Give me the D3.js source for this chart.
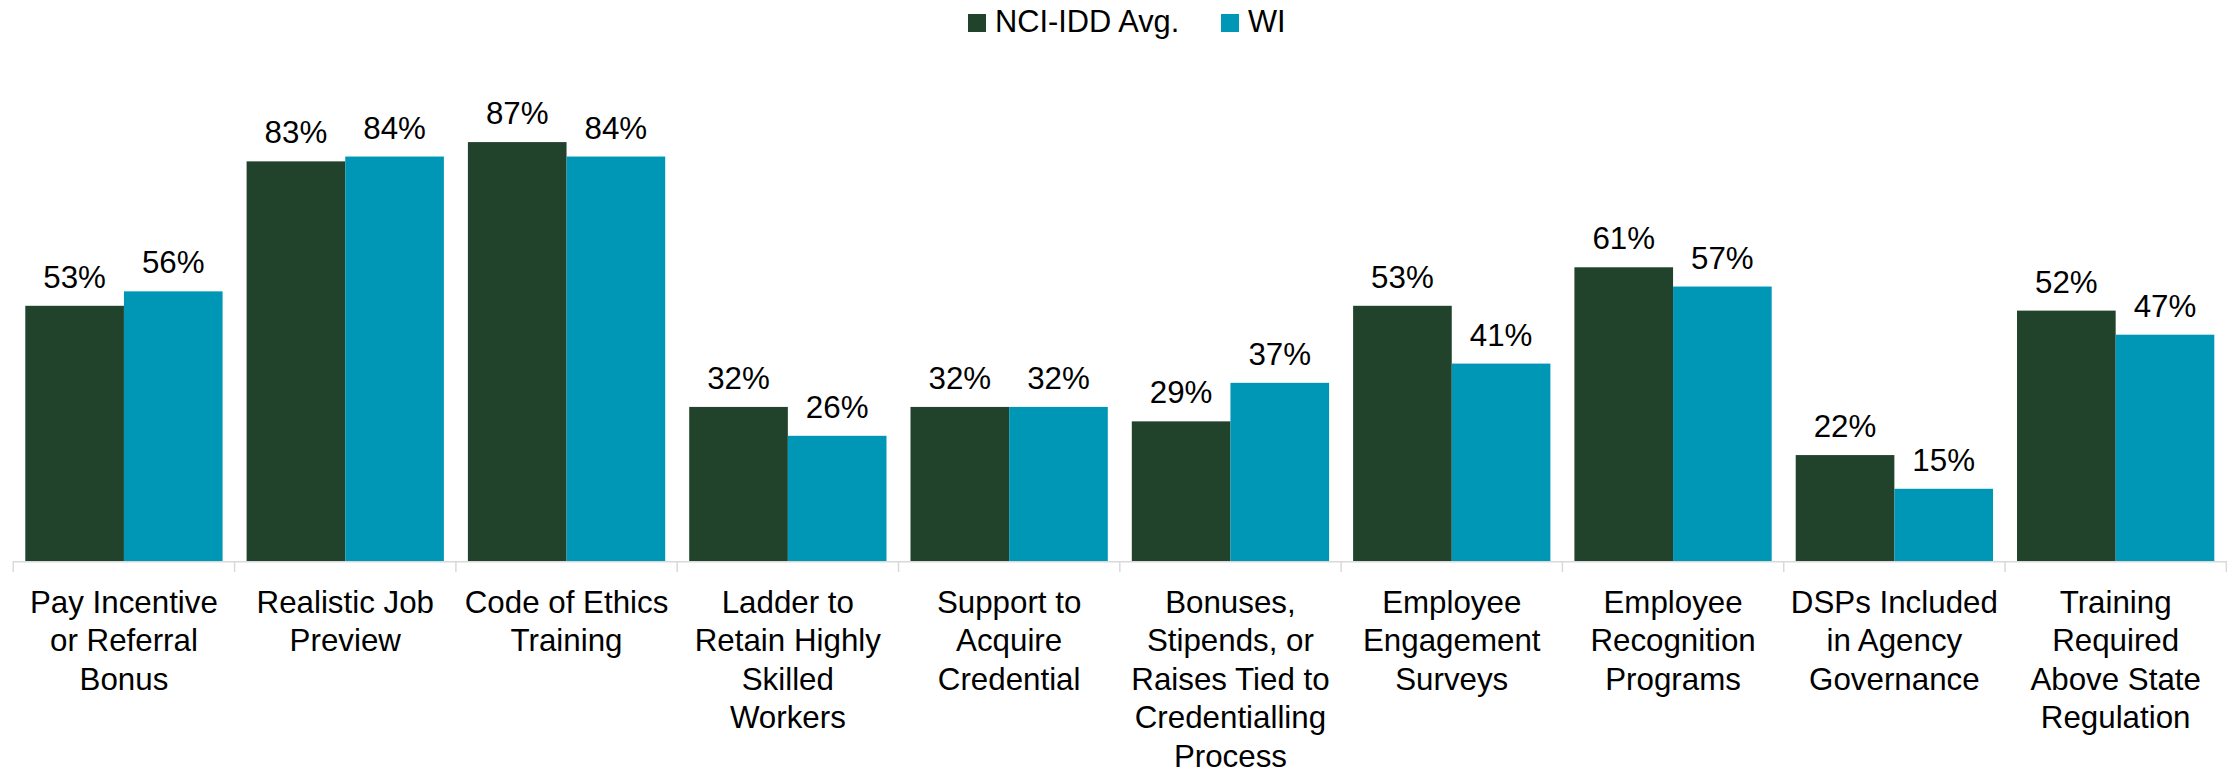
<!DOCTYPE html>
<html>
<head>
<meta charset="utf-8">
<script src="https://cdn.jsdelivr.net/npm/d3@7"></script>
<style>
  html, body { margin: 0; padding: 0; background: #fff; }
  svg { display: block; font-family: "Liberation Sans", Arial, sans-serif; }
</style>
</head>
<body>
<svg id="chart" width="2236" height="773"></svg>
<script>
// Category labels, one string per category, line breaks marked with "\n"
const categories = [
  "Pay Incentive\nor Referral\nBonus",
  "Realistic Job\nPreview",
  "Code of Ethics\nTraining",
  "Ladder to\nRetain Highly\nSkilled\nWorkers",
  "Support to\nAcquire\nCredential",
  "Bonuses,\nStipends, or\nRaises Tied to\nCredentialling\nProcess",
  "Employee\nEngagement\nSurveys",
  "Employee\nRecognition\nPrograms",
  "DSPs Included\nin Agency\nGovernance",
  "Training\nRequired\nAbove State\nRegulation"
];

const seriesNames = ["NCI-IDD Avg.", "WI"];

// Percent of agencies offering each practice
const nciValues = [53, 83, 87, 32, 32, 29, 53, 61, 22, 52];
const wiValues  = [56, 84, 84, 26, 32, 37, 41, 57, 15, 47];

const colors = ["#21432b", "#0096b6"];

const svg = d3.select("#chart");
const fontSize = 31.3;

const rows = categories.map((c, i) => ({
  key: c,
  values: [nciValues[i], wiValues[i]]
}));

// Outer band: one slot per category; inner band: the two series
const x0 = d3.scaleBand()
  .domain(categories)
  .range([13.3, 2226.3])
  .paddingInner(0.1085)
  .paddingOuter(0.0542);

const x1 = d3.scaleBand()
  .domain(seriesNames)
  .range([0, x0.bandwidth()])
  .padding(0);

const y = d3.scaleLinear()
  .domain([0, 100])
  .range([561, 79.5]);

// Bars
const groups = svg.append("g")
  .selectAll("g")
  .data(rows)
  .join("g")
  .attr("transform", d => `translate(${x0(d.key)},0)`);

groups.selectAll("rect")
  .data(d => d.values.map((v, j) => ({ name: seriesNames[j], v, j })))
  .join("rect")
  .attr("x", d => x1(d.name))
  .attr("y", d => y(d.v))
  .attr("width", x1.bandwidth())
  .attr("height", d => y(0) - y(d.v))
  .attr("fill", d => colors[d.j]);

// Value labels above bars
groups.selectAll("text.val")
  .data(d => d.values.map((v, j) => ({ name: seriesNames[j], v, j })))
  .join("text")
  .attr("class", "val")
  .attr("x", d => x1(d.name) + x1.bandwidth() / 2)
  .attr("y", d => y(d.v) - 18)
  .attr("text-anchor", "middle")
  .attr("font-size", fontSize)
  .attr("fill", "#000")
  .text(d => d.v + "%");

// Category axis: baseline and tick marks at category boundaries
const step = x0.step();
const axisStart = x0(categories[0]) - x0.paddingOuter() * step;
const axis = svg.append("g");
axis.append("line")
  .attr("x1", axisStart)
  .attr("x2", axisStart + step * categories.length)
  .attr("y1", y(0) + 0.75)
  .attr("y2", y(0) + 0.75)
  .attr("stroke", "#d9d9d9")
  .attr("stroke-width", 1.5);

axis.selectAll("line.tick")
  .data(d3.range(categories.length + 1))
  .join("line")
  .attr("class", "tick")
  .attr("x1", i => axisStart + i * step)
  .attr("x2", i => axisStart + i * step)
  .attr("y1", y(0))
  .attr("y2", y(0) + 11)
  .attr("stroke", "#d9d9d9")
  .attr("stroke-width", 1.5);

// Category labels
const lineHeight = 38.4;
axis.selectAll("text.cat")
  .data(categories)
  .join("text")
  .attr("class", "cat")
  .attr("text-anchor", "middle")
  .attr("font-size", fontSize)
  .attr("fill", "#000")
  .each(function(c) {
    const cx = x0(c) + x0.bandwidth() / 2;
    d3.select(this).selectAll("tspan")
      .data(c.split("\n"))
      .join("tspan")
      .attr("x", cx)
      .attr("y", (_, k) => 613 + k * lineHeight)
      .text(t => t);
  });

// Legend
const legendX = [968, 1221];
const legend = svg.append("g");
seriesNames.forEach((name, i) => {
  legend.append("rect")
    .attr("x", legendX[i])
    .attr("y", 14)
    .attr("width", 18)
    .attr("height", 18)
    .attr("fill", colors[i]);
  legend.append("text")
    .attr("x", legendX[i] + 27)
    .attr("y", 32)
    .attr("font-size", 30.8)
    .attr("fill", "#000")
    .text(name);
});
</script>
</body>
</html>
